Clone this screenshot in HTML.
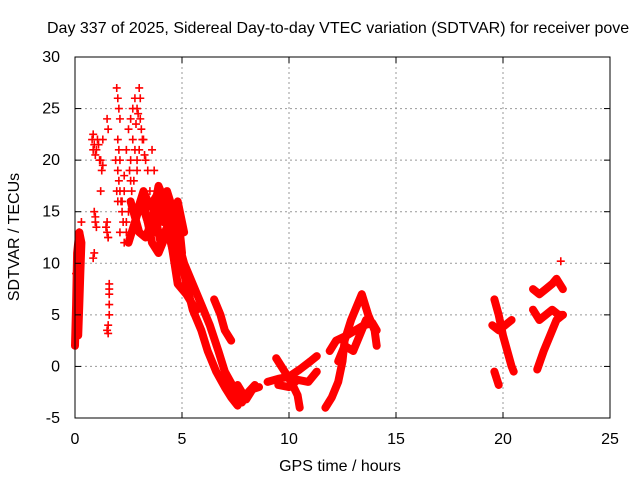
<!DOCTYPE html>
<html><head><meta charset="utf-8"><style>
body{margin:0;background:#fff}
svg text{font-family:"Liberation Sans",sans-serif;font-size:16px;fill:#000}
</style></head><body>
<svg id="chart" width="640" height="480" xmlns="http://www.w3.org/2000/svg">
<rect width="640" height="480" fill="#fff"/>
<g id="grid"></g>
<g id="marks"></g>
<rect x="75" y="57" width="535" height="361" fill="none" stroke="#000"/>
<g id="ticks"></g>
<text x="47" y="33">Day 337 of 2025, Sidereal Day-to-day VTEC variation (SDTVAR) for receiver pove</text>
<text x="340" y="471" text-anchor="middle">GPS time / hours</text>
<text transform="translate(19,237) rotate(-90)" text-anchor="middle">SDTVAR / TECUs</text>
</svg>
<script>
const xTicks=[0,5,10,15,20,25];
const yTicks=[-5,0,5,10,15,20,25,30];
// tracks: arrays of [hour, value]
const trackEarly=[[0.0,2],[0.05,6],[0.1,11],[0.2,13],[0.3,12],[0.25,9],[0.2,6],[0.15,3]];
const trackBlob1=[[2.5,12],[2.8,14],[3.1,16],[3.4,14],[3.7,13],[4.0,15],[4.3,17],[4.6,15],[4.9,13],[5.0,11]];
const trackBlob2=[[2.6,16],[3.0,13],[3.3,12.5],[3.6,14],[3.9,17.5],[4.2,16],[4.5,13],[4.8,10],[5.1,9]];
const trackBlob3=[[3.3,15],[3.6,12],[3.9,11],[4.2,12.5],[4.5,14],[4.8,16],[5.1,13]];
const trackBlob4=[[2.9,15],[3.2,17],[3.5,15.5],[3.8,16.5],[4.1,14],[4.4,15],[4.7,12]];
const trackBlob5=[[3.4,13],[3.7,15],[4.0,12],[4.3,13.5],[4.6,11],[4.9,9.5]];
const trackDecA=[[4.3,15],[4.7,13],[5.1,10],[5.5,8],[5.9,6],[6.3,4],[6.7,1.5],[7.0,-0.5],[7.4,-2],[7.7,-3]];
const trackDecB=[[4.6,14],[4.9,11],[5.2,8],[5.5,5.5],[5.9,3.5],[6.2,1.5],[6.6,-0.5],[7.0,-2],[7.3,-3],[7.6,-3.8]];
const trackDecC=[[4.5,12],[4.8,8],[5.2,7],[5.5,6],[5.7,5.5]];
const trackHump=[[6.5,6.5],[6.8,5],[7.0,3.5],[7.3,2.5]];
const trackLowA=[[7.6,-1.8],[8.0,-3.2],[8.3,-2.2],[8.6,-2.0]];
const trackLowB=[[7.8,-3.5],[8.1,-2.5],[8.4,-1.8]];
const trackCross1=[[9.0,-1.5],[9.5,-1.2],[10.0,-1],[10.5,-0.3],[11.0,0.5],[11.3,1]];
const trackCross2=[[9.4,0.8],[9.8,-0.5],[10.1,-1.5],[10.4,-2.8],[10.5,-4]];
const trackCross3=[[9.5,-1.8],[10.0,-2],[10.4,-1.3],[10.9,-1.5],[11.3,-0.5]];
const trackRise1=[[11.7,-4],[12.0,-3],[12.3,-1.5],[12.5,0.5],[12.6,2.5],[12.9,4.5],[13.2,6],[13.4,7],[13.7,5],[14.0,3.5],[14.1,2]];
const trackRise2=[[11.9,1.5],[12.2,2.5],[12.7,3],[13.1,3.5],[13.5,4],[13.9,4.2],[14.1,3.5]];
const trackRise3=[[12.3,0.5],[12.6,2],[13.0,1.5],[13.3,3],[13.6,4.5]];
const track20a=[[19.6,6.5],[19.8,5],[20.0,3],[20.2,1.5],[20.4,0],[20.5,-0.5]];
const track20b=[[19.5,4],[19.8,3.5],[20.1,4],[20.4,4.5]];
const track20c=[[19.6,-0.5],[19.8,-1.8]];
const track22a=[[21.6,-0.3],[21.9,1.5],[22.2,3],[22.5,4.5],[22.8,5]];
const track22b=[[21.4,5.5],[21.7,4.5],[22.0,5],[22.3,5.5],[22.6,5],[22.8,5]];
const track22c=[[21.4,7.5],[21.7,7],[22.0,7.5],[22.3,8],[22.5,8.5],[22.8,7.5]];
const tracks=[trackEarly,trackBlob1,trackBlob2,trackBlob3,trackBlob4,trackBlob5,trackDecA,trackDecB,trackDecC,trackHump,trackLowA,trackLowB,trackCross1,trackCross2,trackCross3,trackRise1,trackRise2,trackRise3,track20a,track20b,track20c,track22a,track22b,track22c];
// isolated points: hours and values
const ptHours=[0.05,0.1,0.15,0.2,0.3,0.85,0.9,0.95,0.9,0.95,0.9,0.85,1.0,1.2,1.25,1.2,1.5,1.55,1.5,1.55,1.6,1.6,1.6,1.55,1.5,1.95,2.0,2.05,2.1,2.0,2.05,2.1,2.0,2.05,2.1,2.2,2.1,2.5,2.6,2.7,2.8,2.9,3.0,3.05,2.7,2.8,2.9,3.1,3.2,3.3,3.6,3.7,22.7,1.3,2.3,2.4,2.6,2.2,
0.8,0.85,1.05,1.1,1.15,1.3,1.55,1.6,1.6,1.55,2.15,2.25,2.3,2.4,2.5,2.55,2.65,2.75,2.85,2.95,3.05,3.15,3.25,3.0,2.9,2.6,2.4,2.3,1.9,1.95,2.0,0.2,0.25,0.15,0.1,1.45,1.5,0.95,1.0,3.4,3.5];
const ptValues=[9,8,10,11,14,22.5,21.5,20.5,15,14,11,10.5,21,20,19,17,24,23,13,12.5,8,6,5,4,3.5,27,26,25,24,22,21,20,19,18,17,15,13,23,24,25,26,25,27,26,22,21,20,23,22,20,21,19,10.2,22,17,14,18,16,
22,21,22,21.5,20,19.5,12.5,7,7.5,3.2,16,14,12,13,15,19,17,18,23.5,24.5,24,22,20.5,21,19,20,21,18.5,20,17,16,13,12,10.5,7,13.5,14,14.5,13.5,19,17];
const X=t=>75+t*535/25, Y=v=>418-(v+5)*361/35;
const NS='http://www.w3.org/2000/svg';
const grid=document.getElementById('grid'),ticks=document.getElementById('ticks'),marks=document.getElementById('marks');
function mk(tag,attrs,parent){const e=document.createElementNS(NS,tag);for(const k in attrs)e.setAttribute(k,attrs[k]);parent.appendChild(e);return e;}
xTicks.forEach(t=>{
  if(t>0&&t<25){const g=mk('line',{x1:X(t),x2:X(t),y1:57,y2:418,stroke:'#999','stroke-dasharray':'2,3'},grid);
  
  }
  mk('line',{x1:X(t),x2:X(t),y1:418,y2:412,stroke:'#000'},ticks);
  mk('line',{x1:X(t),x2:X(t),y1:57,y2:63,stroke:'#000'},ticks);
  const l=mk('text',{x:X(t),y:444,'text-anchor':'middle'},ticks);l.textContent=t;
  
  
});
yTicks.forEach(v=>{
  if(v>-5&&v<30){const g=mk('line',{x1:75,x2:610,y1:Y(v),y2:Y(v),stroke:'#999','stroke-dasharray':'2,3'},grid);
  
  }
  mk('line',{x1:75,x2:81,y1:Y(v),y2:Y(v),stroke:'#000'},ticks);
  mk('line',{x1:610,x2:604,y1:Y(v),y2:Y(v),stroke:'#000'},ticks);
  const l=mk('text',{x:60,y:Y(v)+5,'text-anchor':'end'},ticks);l.textContent=v;
  
  
});
tracks.forEach(tr=>{
  const d=tr.map((p,i)=>(i?'L':'M')+X(p[0]).toFixed(1)+','+Y(p[1]).toFixed(1)).join('');
  const p=mk('path',{d:d,fill:'none',stroke:'#f00','stroke-width':8,'stroke-linejoin':'round','stroke-linecap':'round'},marks);
  
  
});
ptHours.forEach((t,i)=>{
  const x=X(t),y=Y(ptValues[i]);
  const p=mk('path',{d:`M${x-4},${y}H${x+4}M${x},${y-4}V${y+4}`,stroke:'#f00','stroke-width':1.6},marks);
  
  
});
</script>
</body></html>
